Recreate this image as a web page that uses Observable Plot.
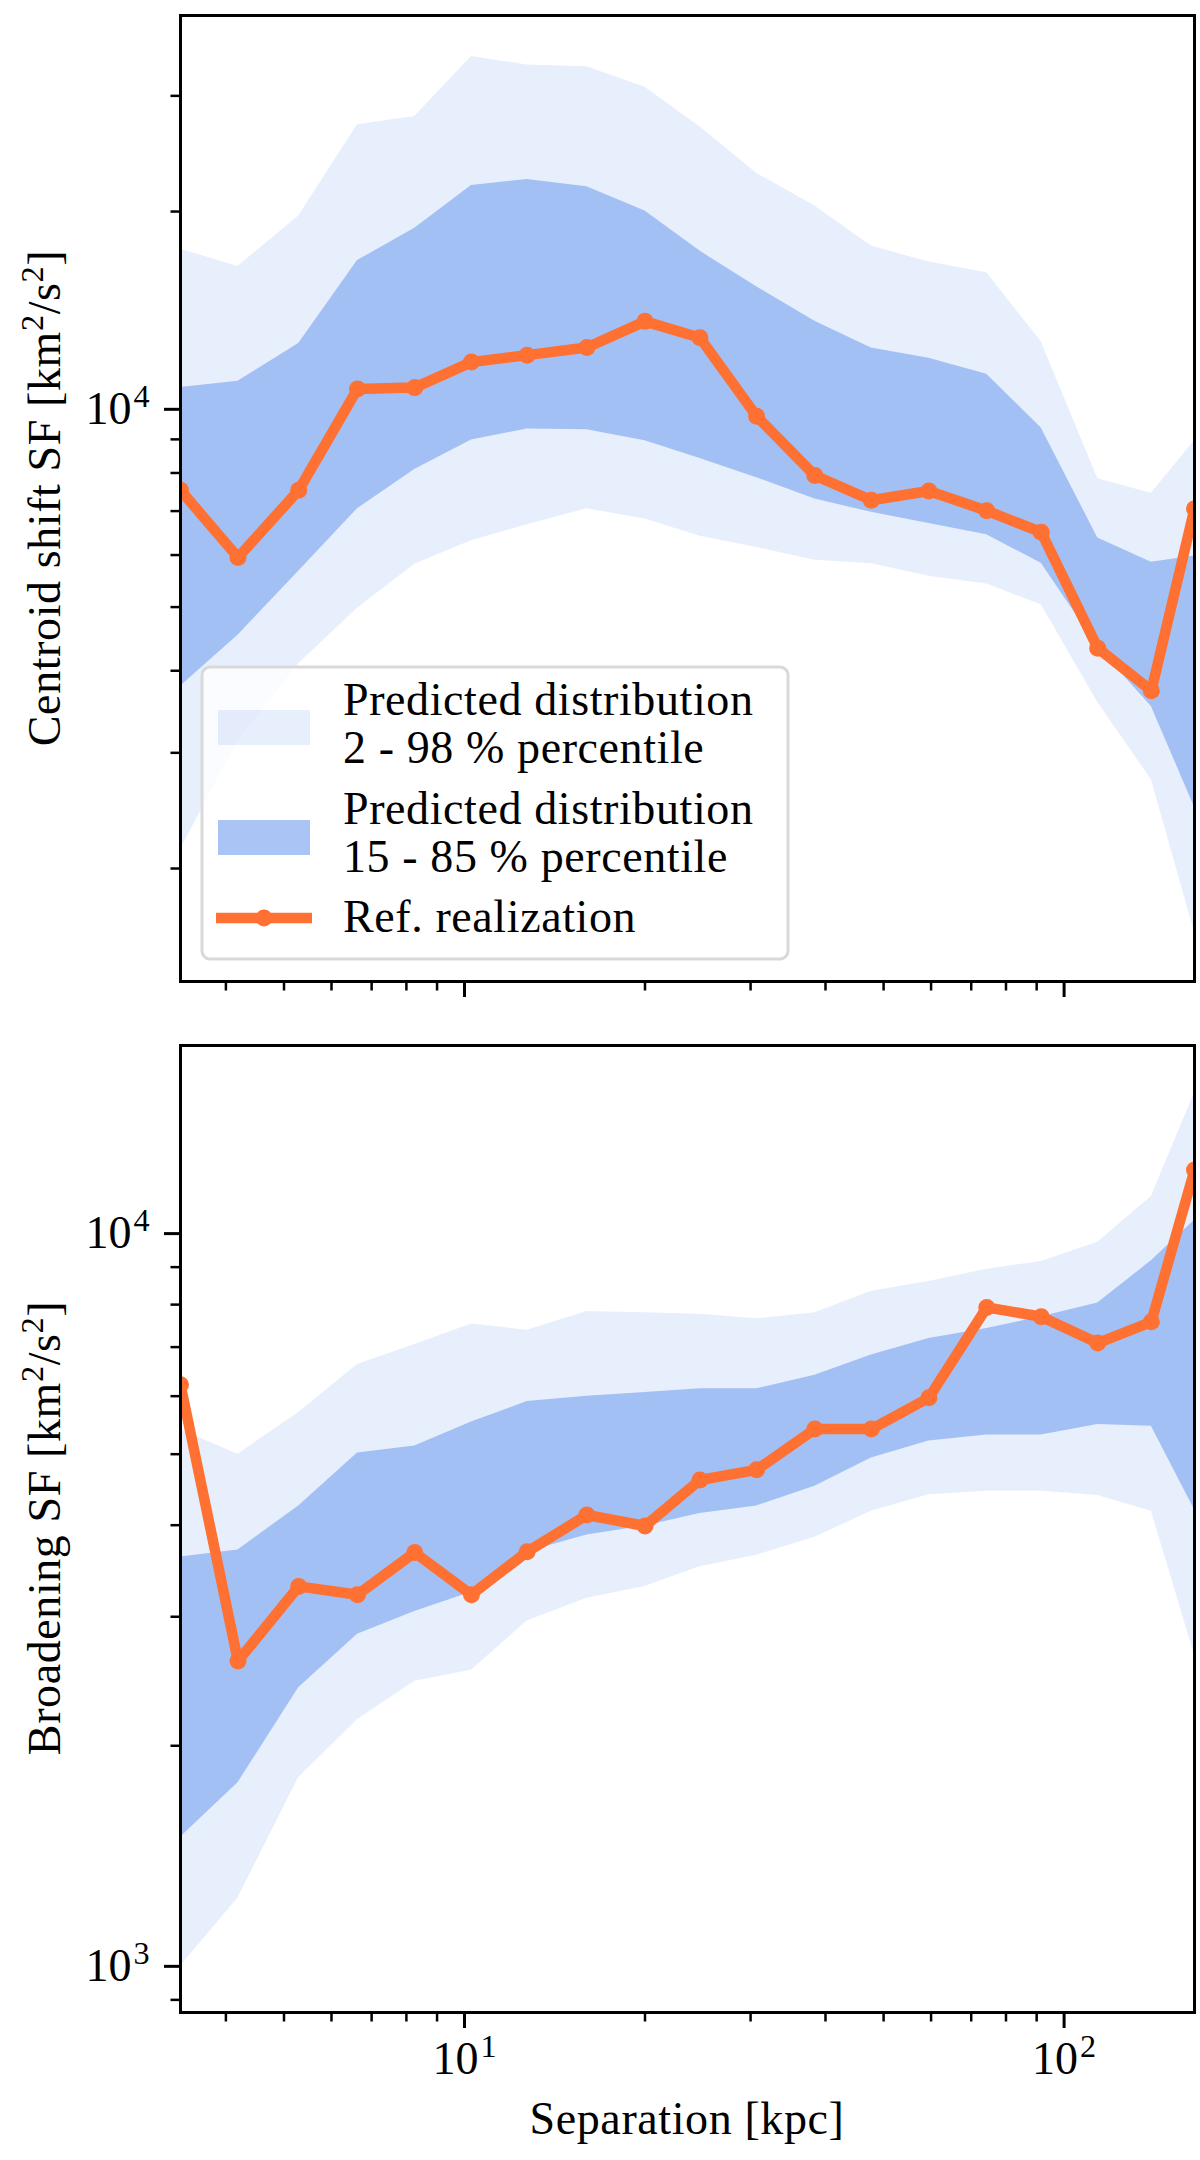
<!DOCTYPE html>
<html>
<head>
<meta charset="utf-8">
<script src="https://cdn.jsdelivr.net/npm/d3@7"></script>
<script src="https://cdn.jsdelivr.net/npm/@observablehq/plot@0.6"></script>
<style>
  html, body { margin: 0; padding: 0; background: #fff; }
  #chart svg { display: block; }
</style>
</head>
<body>
<div id="chart"></div>
<script>
// ---- data ----
const separation = [3.36, 4.19, 5.29, 6.63, 8.26, 10.27, 12.72, 16.0, 20.0, 24.7, 30.7, 38.4, 47.7, 59.5, 74.3, 91.6, 113.8, 139.8, 165];

// Centroid shift SF [km^2/s^2]
const centroidRef = [7530, 5950, 7530, 10740, 10790, 11800, 12090, 12420, 13610, 12850, 9760, 7930, 7270, 7510, 7010, 6500, 4330, 3730, 7060];
const centroidP02 = [2140, 3130, 4100, 4980, 5810, 6310, 6670, 7060, 6810, 6410, 6160, 5890, 5820, 5570, 5420, 5040, 3580, 2730, 1600];
const centroidP98 = [17530, 16500, 19690, 27100, 27900, 34430, 33440, 33220, 30920, 26920, 22870, 20400, 17720, 16760, 16140, 12670, 7840, 7450, 8960];
const centroidP15 = [3790, 4530, 5670, 7060, 8100, 8980, 9330, 9310, 8960, 8420, 7870, 7300, 6970, 6700, 6440, 5830, 4350, 3530, 2480];
const centroidP85 = [10790, 11030, 12590, 16840, 18870, 21920, 22370, 21820, 20040, 17410, 15360, 13610, 12400, 11960, 11310, 9370, 6370, 5850, 5980];

// Broadening SF [km^2/s^2]
const broadRef = [6220, 2610, 3300, 3215, 3670, 3215, 3680, 4130, 3990, 4610, 4760, 5410, 5410, 5970, 7930, 7700, 7090, 7580, 12210];
const broadP02 = [1000, 1240, 1810, 2170, 2450, 2535, 2960, 3180, 3300, 3510, 3640, 3850, 4180, 4400, 4450, 4450, 4390, 4180, 2660];
const broadP98 = [5400, 5000, 5700, 6630, 7060, 7530, 7380, 7830, 7800, 7760, 7650, 7800, 8340, 8600, 8940, 9160, 9730, 11240, 15560];
const broadP15 = [1500, 1780, 2400, 2840, 3050, 3240, 3680, 3880, 3990, 4150, 4250, 4520, 4940, 5210, 5310, 5310, 5490, 5460, 4200];
const broadP85 = [3620, 3700, 4250, 5020, 5130, 5530, 5900, 6000, 6070, 6140, 6140, 6410, 6830, 7190, 7420, 7700, 8040, 9180, 10430];

// ticks
const xMajorTicks = [10, 100];
const xMinorTicks = [4, 5, 6, 7, 8, 9, 20, 30, 40, 50, 60, 70, 80, 90];
const topYMajorTicks = [10000];
const topYMinorTicks = [2000, 3000, 4000, 5000, 6000, 7000, 8000, 9000, 20000, 30000];
const botYMajorTicks = [1000, 10000];
const botYMinorTicks = [900, 2000, 3000, 4000, 5000, 6000, 7000, 8000, 9000];

// text
const legendLabels = [
  ["Predicted distribution", "2 - 98 % percentile"],
  ["Predicted distribution", "15 - 85 % percentile"],
  ["Ref. realization"]
];
const topYLabel = ["Centroid shift SF [km", "2", "/s", "2", "]"];
const botYLabel = ["Broadening SF [km", "2", "/s", "2", "]"];
const xLabel = "Separation [kpc]";

// ---- style ----
const FONT = "'Liberation Serif', 'Times New Roman', serif";
const FS = 46;
const LS = "0.6px";
const ORANGE = "#ff7033";
const BLUE = "cornflowerblue";
const LIGHT_OP = 0.15;
const DARK_OP = 0.52;
const LINE_W = 10.5;
const DOT_R = 8.5;
const SVGNS = "http://www.w3.org/2000/svg";

function rows(ref, p02, p98, p15, p85) {
  return separation.map((s, i) => ({s, ref: ref[i], p02: p02[i], p98: p98[i], p15: p15[i], p85: p85[i]}));
}

const pow10 = d => "10^" + Math.round(Math.log10(d));

function panel({data, yDomain, yMajor, yMinor, height, marginTop, marginBottom, showXLabels}) {
  return Plot.plot({
    width: 1200,
    height,
    marginLeft: 180,
    marginRight: 6,
    marginTop,
    marginBottom,
    style: {fontFamily: FONT, fontSize: FS + "px", background: "white", color: "black", overflow: "visible"},
    x: {type: "log", domain: [separation[0], separation[separation.length - 1]]},
    y: {type: "log", domain: yDomain},
    marks: [
      Plot.areaY(data, {x: "s", y1: "p02", y2: "p98", fill: BLUE, fillOpacity: LIGHT_OP, clip: true}),
      Plot.areaY(data, {x: "s", y1: "p15", y2: "p85", fill: BLUE, fillOpacity: DARK_OP, clip: true}),
      Plot.line(data, {x: "s", y: "ref", stroke: ORANGE, strokeWidth: LINE_W, strokeLinejoin: "round", clip: true}),
      Plot.dot(data, {x: "s", y: "ref", r: DOT_R, fill: ORANGE, clip: true}),
      Plot.axisX({ticks: xMajorTicks, tickSize: 16, strokeWidth: 3, tickPadding: 13,
        tickFormat: showXLabels ? pow10 : () => "", label: null}),
      Plot.axisX({ticks: xMinorTicks, tickSize: 9.5, strokeWidth: 2.5, tickFormat: () => "", label: null}),
      Plot.axisY({ticks: yMajor, tickSize: 16, strokeWidth: 3, tickPadding: 15, tickFormat: pow10, label: null}),
      Plot.axisY({ticks: yMinor, tickSize: 9.5, strokeWidth: 2.5, tickFormat: () => "", label: null}),
      Plot.frame({stroke: "black", strokeWidth: 3})
    ]
  });
}

function superscriptTicks(svg) {
  svg.querySelectorAll("text").forEach(t => {
    const m = /^10\^(-?\d+)$/.exec(t.textContent);
    if (!m) return;
    t.textContent = "10";
    const sp = document.createElementNS(SVGNS, "tspan");
    sp.setAttribute("dy", "-17");
    sp.setAttribute("dx", "2");
    sp.setAttribute("font-size", "0.7em");
    sp.textContent = m[1];
    t.appendChild(sp);
  });
}

function addYLabel(svg, parts, cx, cy) {
  const g = d3.select(svg).append("text")
    .attr("transform", `translate(${cx},${cy}) rotate(-90)`)
    .attr("text-anchor", "middle")
    .attr("font-family", FONT)
    .attr("font-size", FS)
    .attr("letter-spacing", LS)
    .attr("fill", "black");
  parts.forEach((p, i) => {
    const sup = i % 2 === 1;
    const ts = g.append("tspan").text(p);
    if (sup) ts.attr("dy", -17).attr("font-size", FS * 0.7);
    else if (i > 0) ts.attr("dy", 17);
  });
}

function addLegend(svg) {
  const s = d3.select(svg).append("g")
    .attr("font-family", FONT).attr("font-size", FS)
    .attr("letter-spacing", LS).attr("text-anchor", "start");
  s.append("rect").attr("x", 202).attr("y", 667).attr("width", 586).attr("height", 292)
    .attr("rx", 8).attr("fill", "white").attr("fill-opacity", 0.8)
    .attr("stroke", "#d9d9d9").attr("stroke-width", 3);
  s.append("rect").attr("x", 218).attr("y", 710).attr("width", 92).attr("height", 35)
    .attr("fill", BLUE).attr("fill-opacity", LIGHT_OP);
  s.append("rect").attr("x", 218).attr("y", 820).attr("width", 92).attr("height", 35)
    .attr("fill", BLUE).attr("fill-opacity", 0.55);
  s.append("line").attr("x1", 216).attr("x2", 312).attr("y1", 918).attr("y2", 918)
    .attr("stroke", ORANGE).attr("stroke-width", LINE_W);
  s.append("circle").attr("cx", 264).attr("cy", 918).attr("r", DOT_R).attr("fill", ORANGE);
  const baselines = [[715, 763], [824, 872], [932]];
  legendLabels.forEach((lines, i) => {
    lines.forEach((ln, j) => {
      s.append("text").attr("x", 343).attr("y", baselines[i][j])
        .attr("text-anchor", "start").attr("fill", "black").text(ln);
    });
  });
}

const topData = rows(centroidRef, centroidP02, centroidP98, centroidP15, centroidP85);
const botData = rows(broadRef, broadP02, broadP98, broadP15, broadP85);

const topPlot = panel({
  data: topData, yDomain: [1346, 39760], yMajor: topYMajorTicks, yMinor: topYMinorTicks,
  height: 1030, marginTop: 15, marginBottom: 49, showXLabels: false
});
const botPlot = panel({
  data: botData, yDomain: [865, 18060], yMajor: botYMajorTicks, yMinor: botYMinorTicks,
  height: 1130, marginTop: 15, marginBottom: 148, showXLabels: true
});

superscriptTicks(topPlot);
superscriptTicks(botPlot);
addYLabel(topPlot, topYLabel, 60, 498);
addYLabel(botPlot, botYLabel, 60, 498);
addLegend(topPlot);

d3.select(botPlot).append("text")
  .attr("x", 687).attr("y", 1104)
  .attr("text-anchor", "middle")
  .attr("font-family", FONT).attr("font-size", FS).attr("letter-spacing", LS)
  .attr("fill", "black")
  .text(xLabel);

document.getElementById("chart").append(topPlot, botPlot);
</script>
</body>
</html>
